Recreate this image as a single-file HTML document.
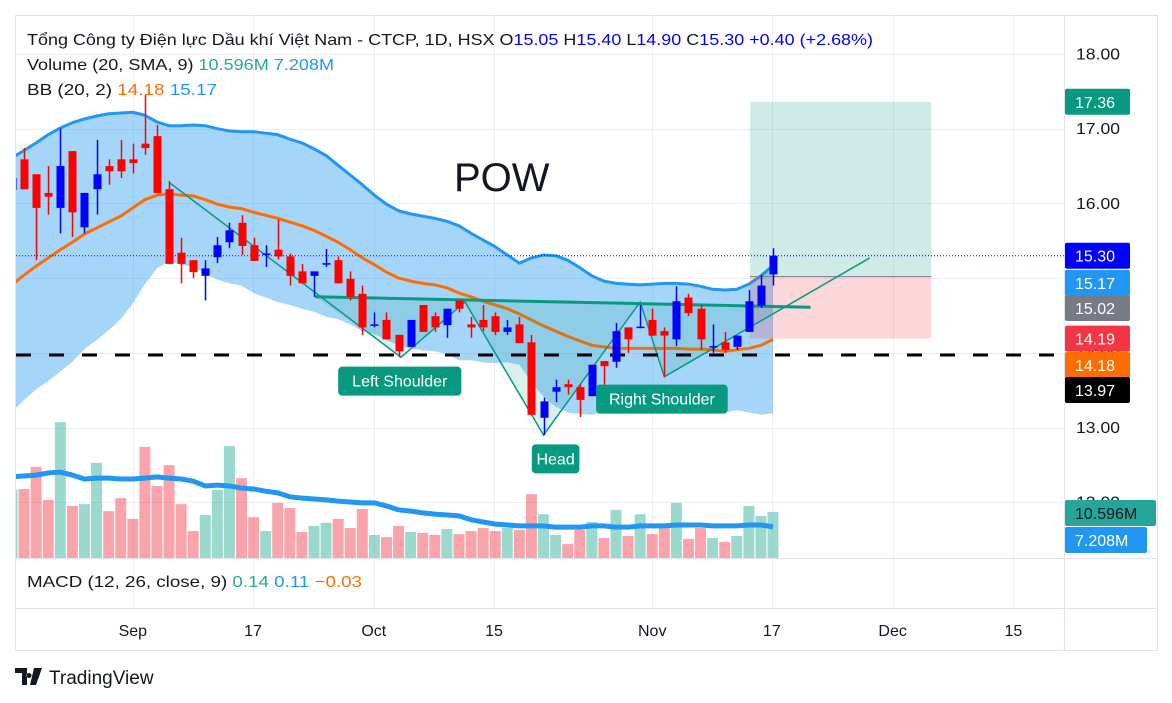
<!DOCTYPE html>
<html><head><meta charset="utf-8"><style>
html,body{margin:0;padding:0;background:#fff;}
svg{display:block;font-family:"Liberation Sans","DejaVu Sans",sans-serif;}
</style></head><body>
<svg id="chart" width="1172" height="703" viewBox="0 0 1172 703" xmlns="http://www.w3.org/2000/svg">
<rect x="0" y="0" width="1172" height="703" fill="#fff"/>
<g id="grid"></g>
<g id="bb"></g>
<g id="vol"></g>
<g id="pat"></g>
<g id="candles"></g>
<g id="labels"></g>
<g id="axis"></g>
<text x="454" y="191" font-size="40" fill="#131722">POW</text>
<text x="27" y="45" font-size="16" fill="#131722" textLength="846" lengthAdjust="spacingAndGlyphs">Tổng Công ty Điện lực Dầu khí Việt Nam - CTCP, 1D, HSX  O<tspan fill="#0000ff">15.05</tspan>  H<tspan fill="#0000ff">15.40</tspan>  L<tspan fill="#0000ff">14.90</tspan>  C<tspan fill="#0000ff">15.30</tspan>  <tspan fill="#0000ff">+0.40 (+2.68%)</tspan></text>
<text x="27" y="70" font-size="16" fill="#131722" textLength="307" lengthAdjust="spacingAndGlyphs">Volume (20, SMA, 9)  <tspan fill="#26a69a">10.596M</tspan>  <tspan fill="#2196f3">7.208M</tspan></text>
<text x="27" y="95" font-size="16" fill="#131722" textLength="190" lengthAdjust="spacingAndGlyphs">BB (20, 2)  <tspan fill="#ff6d00">14.18</tspan>  <tspan fill="#2196f3">15.17</tspan></text>
<text x="27" y="587" font-size="16" fill="#131722" textLength="335" lengthAdjust="spacingAndGlyphs">MACD (12, 26, close, 9)  <tspan fill="#22ab94">0.14</tspan>  <tspan fill="#2196f3">0.11</tspan>  <tspan fill="#ff6d00">−0.03</tspan></text>
<g>
<path d="M15 668h12v17h-5v-12h-7z M29 673a2.5 2.5 0 1 0 0.01 0z M34 668h8l-6 17h-6z" fill="#131722"/>
<text x="49" y="684" font-size="19" fill="#131722">TradingView</text>
</g>
</svg>
<script>
const categories = ["Aug21","Aug22","Aug25","Aug26","Aug27","Aug28","Aug29","Sep3","Sep4","Sep5","Sep8","Sep9","Sep10","Sep11","Sep12","Sep15","Sep16","Sep17","Sep18","Sep19","Sep22","Sep23","Sep24","Sep25","Sep26","Sep29","Sep30","Oct1","Oct2","Oct3","Oct6","Oct7","Oct8","Oct9","Oct10","Oct13","Oct14","Oct15","Oct16","Oct17","Oct20","Oct21","Oct22","Oct23","Oct24","Oct27","Oct28","Oct29","Oct30","Oct31","Nov3","Nov4","Nov5","Nov6","Nov7","Nov10","Nov11","Nov12","Nov13","Nov14","Nov17a","Nov17b","Nov17c","Nov17"];
const opens  = [16.18,16.59,16.39,16.14,15.94,16.70,15.68,16.19,16.50,16.59,16.59,16.80,16.90,16.19,15.34,15.24,15.03,15.28,15.48,15.74,15.44,15.33,15.38,15.29,15.09,15.03,15.20,15.24,14.99,14.79,14.38,14.44,14.24,14.08,14.64,14.49,14.37,14.70,14.38,14.44,14.49,14.28,14.38,14.14,13.13,13.48,13.58,13.54,13.42,13.89,13.88,14.34,14.34,14.44,14.29,14.18,14.74,14.59,14.08,14.14,14.08,14.28,14.63,15.05];
const highs  = [16.40,16.74,16.39,16.50,17.00,16.70,16.14,16.85,16.59,16.85,16.80,17.45,17.05,16.30,15.54,15.24,15.24,15.55,15.74,15.84,15.54,15.44,15.78,15.33,15.19,15.09,15.39,15.29,15.09,14.90,14.54,14.54,14.24,14.44,14.64,14.54,14.59,14.70,14.48,14.64,14.54,14.44,14.48,14.24,13.40,13.64,13.64,13.58,13.84,13.89,14.40,14.34,14.64,14.59,14.34,14.89,14.79,14.64,14.38,14.28,14.23,14.84,15.04,15.40];
const lows   = [16.10,16.19,15.24,15.85,15.60,15.55,15.60,15.85,16.25,16.34,16.40,16.65,16.14,15.19,14.93,15.00,14.70,15.20,15.40,15.31,15.23,15.15,15.25,14.90,14.93,14.75,15.15,14.93,14.70,14.24,14.34,14.18,13.94,14.08,14.28,14.28,14.20,14.54,14.20,14.29,14.24,14.24,14.13,13.17,12.90,13.34,13.44,13.14,13.42,13.50,13.80,14.00,14.34,14.23,13.68,14.09,14.49,14.04,14.00,14.00,14.04,14.28,14.60,14.90];
const closes = [16.34,16.19,15.94,16.09,16.50,15.88,16.14,16.39,16.43,16.43,16.54,16.74,16.14,15.19,15.19,15.08,15.13,15.44,15.64,15.43,15.23,15.33,15.29,15.03,14.93,15.09,15.20,14.93,14.75,14.34,14.38,14.18,14.02,14.44,14.28,14.34,14.59,14.59,14.34,14.34,14.28,14.34,14.13,13.17,13.35,13.54,13.54,13.37,13.84,13.82,14.29,14.18,14.35,14.23,14.23,14.69,14.53,14.18,14.09,14.04,14.23,14.69,14.90,15.30];
const volumes = [15.7,15.9,21.0,13.4,31.3,12.0,12.4,21.9,10.8,13.8,9.0,25.6,16.6,21.4,12.4,6.2,9.9,15.7,25.8,18.4,9.4,6.2,12.7,11.5,6.0,7.4,8.1,9.0,6.9,11.3,5.3,4.8,7.4,6.0,5.8,5.3,6.7,5.5,6.2,6.9,6.2,6.9,6.5,14.7,10.1,5.3,3.2,6.5,8.3,4.6,11.1,5.1,10.1,5.5,6.9,12.7,4.4,6.9,4.6,3.7,5.1,12.0,9.7,10.6];
const volSma = [18.7,18.9,19.1,19.6,19.8,19.1,18.2,18.4,18.4,18.2,18.2,18.4,18.7,18.4,18.2,17.7,16.6,16.8,16.6,16.1,15.9,15.4,15.0,14.1,13.8,13.6,13.4,13.1,12.9,12.7,12.7,12.0,11.1,10.8,10.4,10.1,9.9,9.7,8.8,8.3,7.8,7.6,7.4,7.4,7.4,7.1,7.1,7.1,7.4,7.4,7.1,7.1,7.4,7.4,7.4,7.6,7.6,7.6,7.4,7.4,7.4,7.6,7.6,7.2];
const bbUpper = [16.61,16.71,16.81,16.92,17.01,17.08,17.13,17.17,17.20,17.21,17.22,17.18,17.09,17.04,17.04,17.05,17.04,17.00,16.97,16.96,16.96,16.94,16.92,16.86,16.81,16.73,16.64,16.51,16.38,16.25,16.11,15.99,15.90,15.86,15.83,15.80,15.76,15.70,15.60,15.51,15.42,15.31,15.20,15.27,15.31,15.30,15.24,15.14,15.03,14.96,14.93,14.92,14.91,14.92,14.93,14.93,14.92,14.89,14.85,14.84,14.85,14.92,15.03,15.17];
const bbMid = [14.91,15.04,15.16,15.27,15.38,15.48,15.59,15.67,15.75,15.83,15.94,16.05,16.11,16.13,16.11,16.10,16.05,15.99,15.95,15.93,15.88,15.84,15.80,15.75,15.70,15.64,15.56,15.48,15.38,15.27,15.18,15.08,15.00,14.96,14.93,14.91,14.87,14.80,14.75,14.69,14.64,14.59,14.52,14.44,14.36,14.29,14.22,14.16,14.10,14.08,14.06,14.06,14.06,14.06,14.06,14.06,14.05,14.05,14.04,14.02,14.04,14.06,14.10,14.18];
const bbLower = [13.21,13.37,13.51,13.62,13.75,13.88,14.05,14.17,14.30,14.45,14.66,14.92,15.13,15.22,15.18,15.15,15.06,14.98,14.93,14.90,14.80,14.74,14.68,14.64,14.59,14.55,14.48,14.45,14.38,14.29,14.25,14.17,14.10,14.06,14.03,14.02,13.98,13.90,13.90,13.87,13.86,13.87,13.84,13.61,13.41,13.28,13.20,13.18,13.17,13.20,13.19,13.20,13.21,13.20,13.19,13.19,13.18,13.21,13.23,13.20,13.23,13.20,13.17,13.19];
const priceTicks = ["18.00","17.00","16.00","15.00","14.00","13.00","12.00"];
const priceTickValues = [18,17,16,15,14,13,12];
const timeLabels = ["Sep","17","Oct","15","Nov","17","Dec","15"];
const timeLabelIndex = [10.0,19.95,29.95,39.9,53.0,62.9,72.9,82.9];
const zigzagIdx = [13.1,32.2,37.5,44,52,54,71];
const zigzagPrice = [16.27,13.94,14.68,12.90,14.68,13.68,15.27];
const necklineIdx = [25.1,66.1];
const necklinePrice = [14.75,14.61];
const patFillIdx = [25.1,32.2,37.5,44,52,54,64.3];
const patFillPrice = [14.75,13.94,14.68,12.90,14.68,13.68,14.63];
const posIdx = [61.1,76.1];
const posPrice = [17.36,15.02,14.19];
const supportPrice = 13.97;
const lastPrice = 15.30;
const shoulderLabels = ["Left Shoulder","Head","Right Shoulder"];
const shoulderLabelIdx = [32.1,45.0,53.8];
const shoulderLabelPrice = [13.62,12.58,13.38];

const NS = "http://www.w3.org/2000/svg";
const X0 = 12, DX = 12.08, PLEFT = 16, PRIGHT = 1064;
function xs(i){ return X0 + i*DX; }
function ys(p){ return 54 + (18 - p)*74.7; }
function yv(v){ return 558 - v*4.34; }
function mk(tag, attrs, parent){ const e=document.createElementNS(NS,tag); for(const k in attrs) e.setAttribute(k, attrs[k]); parent.appendChild(e); return e; }
const svg = document.getElementById('chart');
const defs = mk('defs',{},svg);
const cp = mk('clipPath',{id:'pc'},defs);
mk('rect',{x:PLEFT,y:15,width:PRIGHT-PLEFT,height:543},cp);

const grid = document.getElementById('grid');
let fr = mk('rect',{x:15.5,y:15.5,width:1142,height:635,fill:'none',stroke:'#e0e3eb'},grid);
 
mk('line',{x1:PRIGHT+0.5,y1:15,x2:PRIGHT+0.5,y2:650,stroke:'#e0e3eb'},grid);
mk('line',{x1:15,y1:558.5,x2:1157,y2:558.5,stroke:'#e0e3eb'},grid);
mk('line',{x1:15,y1:608.5,x2:1157,y2:608.5,stroke:'#e0e3eb'},grid);
priceTickValues.forEach(v=>{ mk('line',{x1:PLEFT,y1:Math.round(ys(v))+0.5,x2:PRIGHT,y2:Math.round(ys(v))+0.5,stroke:'#eceef2'},grid); });
timeLabelIndex.forEach(i=>{ mk('line',{x1:Math.round(xs(i))+0.5,y1:15,x2:Math.round(xs(i))+0.5,y2:608,stroke:'#eceef2'},grid); });

const bb = document.getElementById('bb');
bb.setAttribute('clip-path','url(#pc)');
let fillPts = bbUpper.map((v,i)=>xs(i)+','+ys(v)).concat(bbLower.map((v,i)=>[i,v]).reverse().map(a=>xs(a[0])+','+ys(a[1])));
let bf = mk('polygon',{points:fillPts.join(' '),fill:'rgba(33,150,243,0.4)'},bb);
 
let bu = mk('polyline',{points:bbUpper.map((v,i)=>xs(i)+','+ys(v)).join(' '),fill:'none',stroke:'#2196f3','stroke-width':3,'stroke-linejoin':'round'},bb);
 
let bm = mk('polyline',{points:bbMid.map((v,i)=>xs(i)+','+ys(v)).join(' '),fill:'none',stroke:'#ff6d00','stroke-width':3,'stroke-linejoin':'round'},bb);
 

const vol = document.getElementById('vol');
vol.setAttribute('clip-path','url(#pc)');
volumes.forEach((v,i)=>{
  const up = closes[i] >= opens[i];
  const r = mk('rect',{x:xs(i)-5.5,y:yv(v),width:11,height:558-yv(v),fill:up?'rgba(34,171,148,0.45)':'rgba(242,54,69,0.45)'},vol);
  
  
});
let vs = mk('polyline',{points:volSma.map((v,i)=>xs(i)+','+yv(v)).join(' '),fill:'none',stroke:'#2196f3','stroke-width':5,'stroke-linejoin':'round'},vol);
 

const pat = document.getElementById('pat');
pat.setAttribute('clip-path','url(#pc)');
let pg = mk('rect',{x:xs(posIdx[0]),y:ys(posPrice[0]),width:xs(posIdx[1])-xs(posIdx[0]),height:ys(posPrice[1])-ys(posPrice[0]),fill:'rgba(8,153,129,0.2)'},pat);
 
let pr = mk('rect',{x:xs(posIdx[0]),y:ys(posPrice[1]),width:xs(posIdx[1])-xs(posIdx[0]),height:ys(posPrice[2])-ys(posPrice[1]),fill:'rgba(242,54,69,0.2)'},pat);
 
mk('line',{x1:xs(posIdx[0]),y1:ys(posPrice[1]),x2:xs(posIdx[1]),y2:ys(posPrice[1]),stroke:'#787b86','stroke-width':1},pat);
let pf = mk('polygon',{points:patFillIdx.map((v,k)=>xs(v)+','+ys(patFillPrice[k])).join(' '),fill:'rgba(8,153,129,0.15)'},pat);
 
let zz = mk('polyline',{points:zigzagIdx.map((v,k)=>xs(v)+','+ys(zigzagPrice[k])).join(' '),fill:'none',stroke:'#089981','stroke-width':1.5},pat);
 
let nk = mk('line',{x1:xs(necklineIdx[0]),y1:ys(necklinePrice[0]),x2:xs(necklineIdx[1]),y2:ys(necklinePrice[1]),stroke:'#089981','stroke-width':3},pat);
 
let sp = mk('line',{x1:PLEFT,y1:ys(supportPrice),x2:PRIGHT,y2:ys(supportPrice),stroke:'#000','stroke-width':3,'stroke-dasharray':'15 18'},pat);
 
let lp = mk('line',{x1:PLEFT,y1:ys(lastPrice),x2:PRIGHT,y2:ys(lastPrice),stroke:'#0000ff','stroke-width':1,'stroke-dasharray':'1 2'},pat);
 

const cg = document.getElementById('candles');
cg.setAttribute('clip-path','url(#pc)');
opens.forEach((o,i)=>{
  const c = closes[i], up = c >= o, col = up ? '#0000ff' : '#ff0000';
  const g = mk('g',{},cg);
  
  
  const x = Math.round(xs(i));
  mk('line',{x1:x+0.5,y1:ys(highs[i]),x2:x+0.5,y2:ys(lows[i]),stroke:col,'stroke-width':1.5},g);
  const top = ys(Math.max(o,c)), bot = ys(Math.min(o,c));
  mk('rect',{x:x-3.5,y:top,width:8,height:Math.max(1.5,bot-top),fill:col},g);
});

const lg = document.getElementById('labels');
shoulderLabels.forEach((t,k)=>{
  const g = mk('g',{},lg);
  
  
  const w = t.length*8.4+14, cx = xs(shoulderLabelIdx[k]), cy = ys(shoulderLabelPrice[k]);
  mk('rect',{x:cx-w/2,y:cy-14.5,width:w,height:29,rx:4,fill:'#089981'},g);
  const tx = mk('text',{x:cx,y:cy+5.5,'text-anchor':'middle','font-size':16,fill:'#fff'},g);
  tx.textContent = t;
});

const ax = document.getElementById('axis');
priceTicks.forEach((t,k)=>{
  const tx = mk('text',{x:1076,y:ys(priceTickValues[k])+5.5,'font-size':16,fill:'#131722',textLength:44,lengthAdjust:'spacingAndGlyphs'},ax);
  
  
  tx.textContent = t;
});
timeLabels.forEach((t,k)=>{
  const tx = mk('text',{x:xs(timeLabelIndex[k]),y:636,'font-size':16,fill:'#131722','text-anchor':'middle'},ax);
  
  
  tx.textContent = t;
});
const badgeText = ["17.36","15.30","15.17","15.02","14.19","14.18","13.97","10.596M","7.208M"];
const badgeY = [ys(17.36),ys(15.30),283,308,ys(14.19),365,390,513,540];
const badgeColor = ["#089981","#0000ff","#2196f3","#787b86","#f23645","#ff6d00","#000000","#26a69a","#2196f3"];
const badgeTextColor = ["#fff","#fff","#fff","#fff","#fff","#fff","#fff","#131722","#fff"];
const badgeW = [65,65,65,65,65,65,65,91,82];
badgeText.forEach((t,k)=>{
  const g = mk('g',{},ax);
  
  
  mk('rect',{x:1065,y:badgeY[k]-13,width:badgeW[k],height:26,rx:2,fill:badgeColor[k]},g);
  const tx = mk('text',{x:1075,y:badgeY[k]+6,'font-size':16,fill:badgeTextColor[k]},g);
  tx.textContent = t;
});
</script>
</body></html>
